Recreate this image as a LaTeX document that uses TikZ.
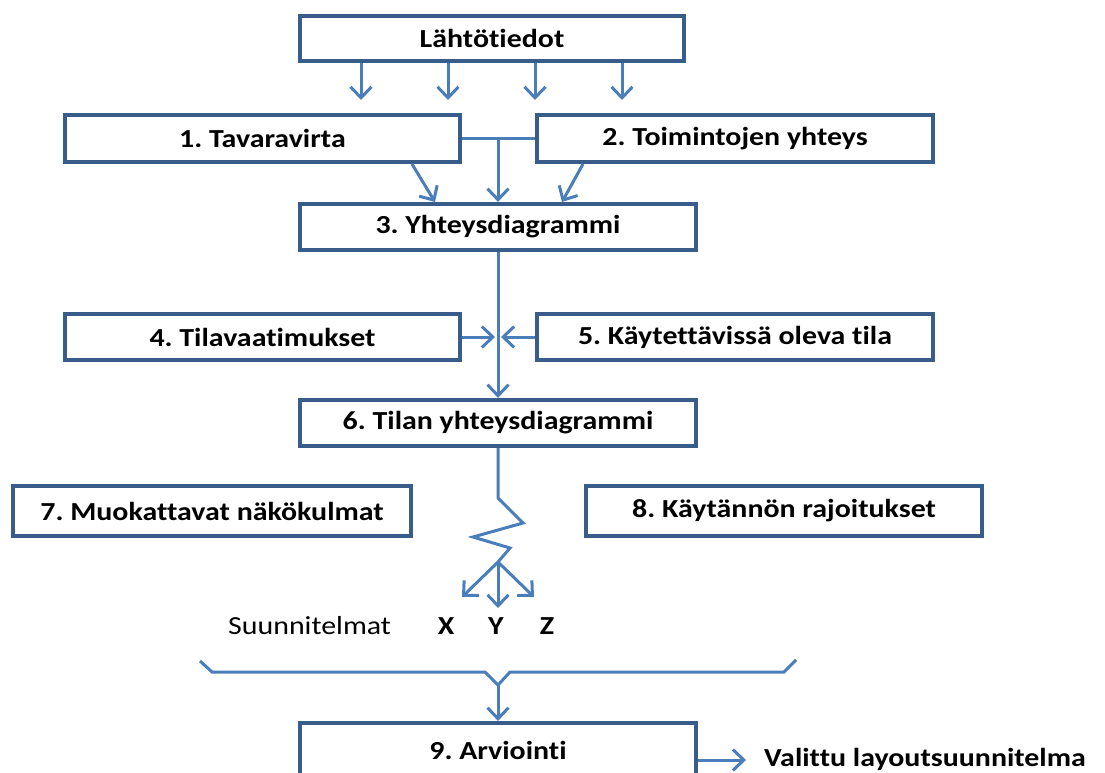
\documentclass[tikz,border=0pt]{standalone}
\usepackage{fontspec}
\setmainfont{Carlito}[FakeStretch=1.15, Ligatures=NoCommon]
\usetikzlibrary{arrows.meta}
\definecolor{boxcol}{RGB}{56,93,138}
\definecolor{arrcol}{RGB}{74,126,187}
\frenchspacing
\begin{document}
\begin{tikzpicture}[x=1pt,y=-1pt,
  every node/.style={font=\fontsize{26}{30}\selectfont},
  box/.style={draw=boxcol, line width=4.2pt, fill=white, inner sep=0pt,
    font=\fontsize{26}{30}\selectfont\bfseries},
  conn/.style={draw=arrcol, line width=3pt, line join=miter},
  arr/.style={conn, -{Straight Barb[length=11pt,width=21pt]}},
  lbl/.style={font=\fontsize{26}{30}\selectfont\bfseries, inner sep=0pt, anchor=base}
]
\useasboundingbox (0,0) rectangle (1105,773);

% process boxes
\node[box, minimum width=384pt, minimum height=45pt] (B0) at (492,38.5) {Lähtötiedot};
\node[box, minimum width=395pt, minimum height=47pt] (B1) at (262.5,138.5) {1. Tavaravirta};
\node[box, minimum width=396pt, minimum height=47pt] (B2) at (735,138.5) {2. Toimintojen yhteys};
\node[box, minimum width=396pt, minimum height=46pt] (B3) at (498,227) {3. Yhteysdiagrammi};
\node[box, minimum width=395pt, minimum height=46pt] (B4) at (262.5,337) {4. Tilavaatimukset};
\node[box, minimum width=396pt, minimum height=46pt] (B5) at (735,337) {5. Käytettävissä oleva tila};
\node[box, minimum width=396pt, minimum height=46pt] (B6) at (498,423) {6. Tilan yhteysdiagrammi};
\node[box, minimum width=398pt, minimum height=50pt] (B7) at (212,511) {7. Muokattavat näkökulmat};
\node[box, minimum width=396pt, minimum height=50pt] (B8) at (784,511) {8. Käytännön rajoitukset};
\node[box, minimum width=396pt, minimum height=54pt] (B9) at (498,750) {9. Arviointi};

% arrows out of the starting data
\foreach \i/\x in {1/361,2/448,3/535,4/622}{
  \coordinate (t\i) at (\x,100);
  \draw[arr] (B0.south -| t\i) -- (t\i);
}

% 1 and 2 join into 3
\draw[conn] (B1.east) -- (B2.west);
\draw[arr] (B3.north |- B1.east) -- (B3.north);
\coordinate (d1s) at (412,164);
\coordinate (d1e) at (435,202);
\coordinate (d2s) at (583,164);
\coordinate (d2e) at (562,202);
\draw[arr] (d1s) -- (d1e);
\draw[arr] (d2s) -- (d2e);

% 3 to 6, with 4 and 5 feeding in
\draw[arr] (B3.south) -- (B6.north);
\coordinate (m45) at (498,337);
\draw[arr] (B4.east) -- ([xshift=-3pt]m45);
\draw[arr] (B5.west) -- ([xshift=3pt]m45);

% zigzag from 6 and the three alternatives
\coordinate (z0) at (498,498);
\coordinate (z1) at (523,523);
\coordinate (z2) at (473,537);
\coordinate (z3) at (510,548);
\coordinate (z4) at (498,562);
\draw[conn] (B6.south) -- (z0) -- (z1) -- (z2) -- (z3) -- (z4);
\coordinate (tx) at (462,597);
\coordinate (ty) at (498,608);
\coordinate (tz) at (534,597);
\draw[arr] (z4) -- (tx);
\draw[arr] (z4) -- (ty);
\draw[arr] (z4) -- (tz);

\node[inner sep=0pt, anchor=base west] (sn) at (228,634) {Suunnitelmat};
\node[lbl] (lx) at (446,634) {X};
\node[lbl] (ly) at (496,634) {Y};
\node[lbl] (lz) at (547,634) {Z};

% brace gathering the alternatives into 9
\coordinate (b0) at (200,661);
\coordinate (b1) at (212,672);
\coordinate (b2) at (485,672);
\coordinate (b3) at (498,685);
\coordinate (b4) at (510,672);
\coordinate (b5) at (784,672);
\coordinate (b6) at (796,660);
\draw[conn] (b0) -- (b1) -- (b2) -- (b3) -- (b4) -- (b5) -- (b6);
\draw[arr] (b3) -- (B9.north);

% result
\coordinate (vout) at (746,760);
\draw[arr] (B9.east |- vout) -- (vout);
\node[lbl, anchor=base west] (res) at (764,766) {Valittu layoutsuunnitelma};
\end{tikzpicture}
\end{document}
